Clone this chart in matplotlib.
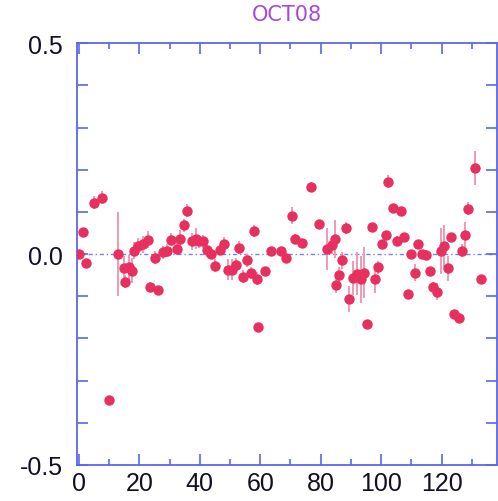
import numpy as np
import matplotlib
matplotlib.use("Agg")
import matplotlib.pyplot as plt

# points (index, residual, error)
xs = [0.0, 1.4, 2.4, 5.0, 7.7, 10.0, 13.0, 14.8, 15.3, 16.6,
      17.6, 18.3, 19.7, 21.2, 22.9, 23.7, 25.2, 26.2, 27.7, 29.2,
      30.5, 32.5, 33.5, 34.8, 35.8, 37.4, 38.8, 39.9, 41.1, 42.4,
      43.7, 45.2, 46.7, 48.0, 49.3, 50.7, 52.0, 53.0, 54.3, 55.6,
      56.9, 57.9, 58.9, 59.3, 61.7, 63.6, 66.9, 68.5, 70.5, 71.5,
      73.8, 76.8, 79.4, 82.2, 83.7, 84.6, 85.2, 86.0, 87.0, 88.4,
      89.3, 90.6, 91.9, 93.2, 94.3, 95.3, 96.8, 97.8, 98.9, 100.2,
      101.6, 102.4, 103.9, 105.2, 106.5, 107.5, 108.9, 109.8, 111.2, 112.2,
      113.5, 114.8, 116.1, 117.1, 118.6, 119.8, 120.8, 122.1, 123.1, 124.1,
      125.7, 126.7, 127.7, 128.7, 131.0, 133.0]
ys = [0.000, 0.053, -0.021, 0.122, 0.134, -0.347, 0.000, -0.034, -0.065, -0.031,
      -0.039, 0.008, 0.019, 0.023, 0.034, -0.077, -0.008, -0.085, 0.004, 0.008,
      0.034, 0.013, 0.037, 0.068, 0.103, 0.030, 0.037, 0.030, 0.030, 0.009,
      0.001, -0.027, 0.009, 0.025, -0.037, -0.037, -0.025, 0.015, -0.053, -0.015,
      -0.045, 0.055, -0.058, -0.172, -0.041, 0.008, 0.008, -0.008, 0.091, 0.037,
      0.027, 0.160, 0.072, 0.013, 0.021, 0.036, -0.072, -0.050, -0.015, 0.062,
      -0.106, -0.056, -0.046, -0.060, -0.044, -0.165, 0.065, -0.058, -0.031, 0.023,
      0.046, 0.172, 0.110, 0.032, 0.102, 0.041, -0.094, 0.000, -0.044, 0.023,
      0.001, -0.001, -0.041, -0.077, -0.089, 0.008, 0.020, -0.034, 0.041, -0.143,
      -0.151, 0.008, 0.046, 0.108, 0.205, -0.060]
errs = [0.005, 0.01, 0.01, 0.015, 0.015, 0.005, 0.10, 0.03, 0.015, 0.03,
        0.03, 0.02, 0.02, 0.02, 0.02, 0.01, 0.015, 0.01, 0.015, 0.015,
        0.015, 0.015, 0.02, 0.015, 0.015, 0.02, 0.025, 0.015, 0.015, 0.015,
        0.01, 0.015, 0.01, 0.015, 0.025, 0.025, 0.015, 0.015, 0.015, 0.015,
        0.015, 0.015, 0.015, 0.005, 0.01, 0.01, 0.01, 0.01, 0.02, 0.01,
        0.01, 0.01, 0.01, 0.05, 0.02, 0.045, 0.02, 0.02, 0.02, 0.015,
        0.03, 0.04, 0.05, 0.055, 0.06, 0.01, 0.01, 0.035, 0.015, 0.01,
        0.01, 0.015, 0.01, 0.01, 0.01, 0.01, 0.01, 0.01, 0.02, 0.01,
        0.01, 0.01, 0.01, 0.01, 0.02, 0.055, 0.05, 0.03, 0.01, 0.01,
        0.01, 0.015, 0.03, 0.015, 0.04, 0.01]

yticks = [-0.5, -0.4, -0.3, -0.2, -0.1, 0.0, 0.1, 0.2, 0.3, 0.4, 0.5]
ylabels = ["-0.5", "", "", "", "", "0.0", "", "", "", "", "0.5"]
xticks = [0, 20, 40, 60, 80, 100, 120]
title = "OCT08"

blue = "#5a66ee"
pink = "#e8305e"

fig = plt.figure(figsize=(4.98, 5.02), dpi=100)
ax = fig.add_axes([77/498, 36/502, 420/498, 421.7/502])

ax.axhline(0, color="#6f82ee", lw=1.0, ls=(0, (3, 2, 1, 2)), zorder=1)
ax.errorbar(xs, ys, yerr=errs, fmt="o", color=pink, ms=7.5, mec="none",
            ecolor="#f09ab2", elinewidth=1.4, capsize=0, zorder=3)

ax.set_xlim(-0.6, 138.3)
ax.set_ylim(-0.5, 0.5)
ax.set_xticks(xticks)
ax.set_xticks(np.arange(10, 140, 20), minor=True)
ax.set_yticks(yticks)
ax.set_yticklabels(ylabels)

for s in ax.spines.values():
    s.set_color(blue)
    s.set_linewidth(1.3)
ax.tick_params(which="both", direction="in", color=blue, top=True, right=True,
               labelcolor="#111122", labelsize=18)
ax.tick_params(which="major", length=8, width=1.2)
ax.tick_params(which="minor", length=4, width=1.2)
ax.tick_params(axis="y", pad=10)
ax.tick_params(axis="x", pad=4)
for lab in ax.get_xticklabels() + ax.get_yticklabels():
    lab.set_family("Liberation Sans")

fig.text(287/498, 1 - 15/502, title, color="#a648dc", fontsize=15,
         ha="center", va="center")

fig.savefig("out.png", dpi=100)
